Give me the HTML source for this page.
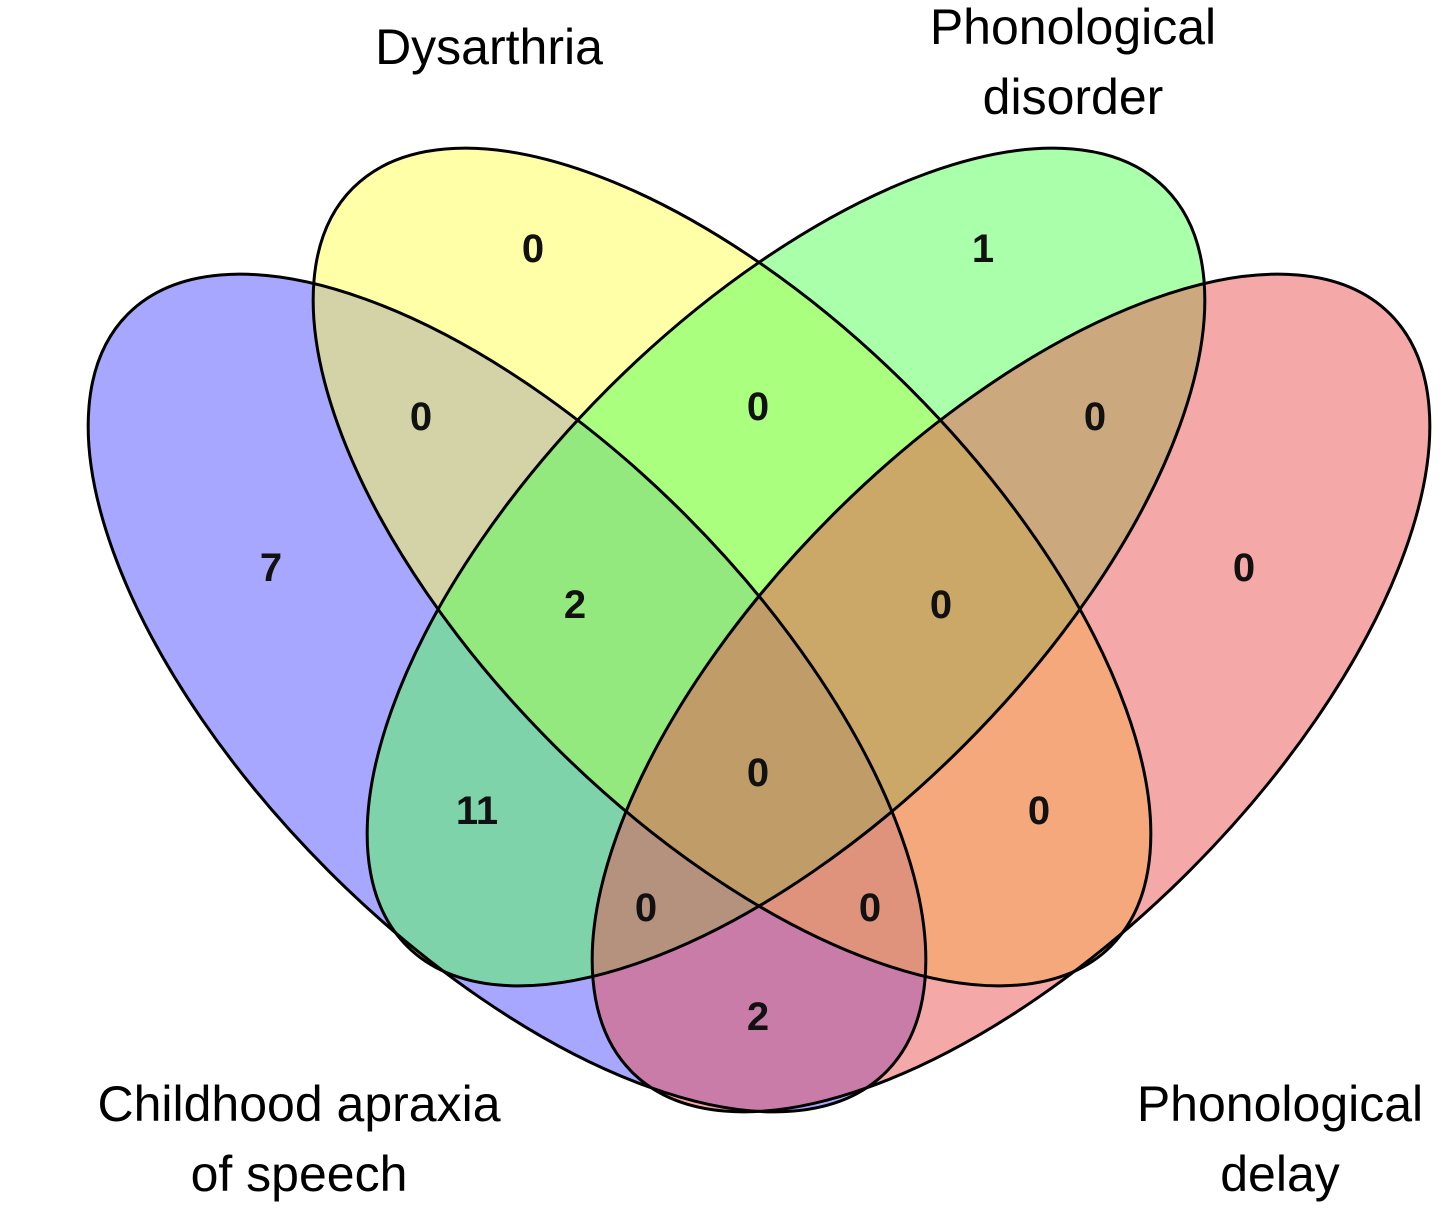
<!DOCTYPE html>
<html><head><meta charset="utf-8"><style>
html,body{margin:0;padding:0;background:#fff;}
svg{display:block}
.n{font-family:"Liberation Sans",Arial,sans-serif;font-weight:bold;font-size:40px;text-anchor:middle;fill:#111}
.l{font-family:"Liberation Sans",Arial,sans-serif;font-size:50px;text-anchor:middle;fill:#000}
</style></head><body>
<svg width="1449" height="1211" viewBox="0 0 1449 1211" xmlns="http://www.w3.org/2000/svg">
<g fill-opacity="0.5">
<ellipse cx="507" cy="693" rx="536" ry="252" transform="rotate(45 507 693)" fill="#5050ff"/>
<ellipse cx="732" cy="567" rx="536" ry="252" transform="rotate(45 732 567)" fill="#ffff50"/>
<ellipse cx="786" cy="567" rx="536" ry="252" transform="rotate(-45 786 567)" fill="#55ff55"/>
<ellipse cx="1011" cy="693" rx="536" ry="252" transform="rotate(-45 1011 693)" fill="#eb5151"/>
</g>
<g fill="none" stroke="#000" stroke-width="3">
<ellipse cx="507" cy="693" rx="536" ry="252" transform="rotate(45 507 693)"/>
<ellipse cx="1011" cy="693" rx="536" ry="252" transform="rotate(-45 1011 693)"/>
<ellipse cx="732" cy="567" rx="536" ry="252" transform="rotate(45 732 567)"/>
<ellipse cx="786" cy="567" rx="536" ry="252" transform="rotate(-45 786 567)"/>
</g>
<text class="n" x="533" y="262">0</text>
<text class="n" x="983" y="262">1</text>
<text class="n" x="421" y="430">0</text>
<text class="n" x="758" y="420">0</text>
<text class="n" x="1095" y="430">0</text>
<text class="n" x="271" y="581">7</text>
<text class="n" x="1244" y="581">0</text>
<text class="n" x="575" y="618">2</text>
<text class="n" x="941" y="618">0</text>
<text class="n" x="758" y="786">0</text>
<text class="n" x="477" y="824">11</text>
<text class="n" x="1039" y="824">0</text>
<text class="n" x="646" y="921">0</text>
<text class="n" x="870" y="921">0</text>
<text class="n" x="758" y="1030">2</text>
<text class="l" x="489" y="64">Dysarthria</text>
<text class="l" x="1073" y="44">Phonological</text>
<text class="l" x="1073" y="114">disorder</text>
<text class="l" x="299" y="1121">Childhood apraxia</text>
<text class="l" x="299" y="1191">of speech</text>
<text class="l" x="1280" y="1121">Phonological</text>
<text class="l" x="1280" y="1191">delay</text>
</svg>
</body></html>
